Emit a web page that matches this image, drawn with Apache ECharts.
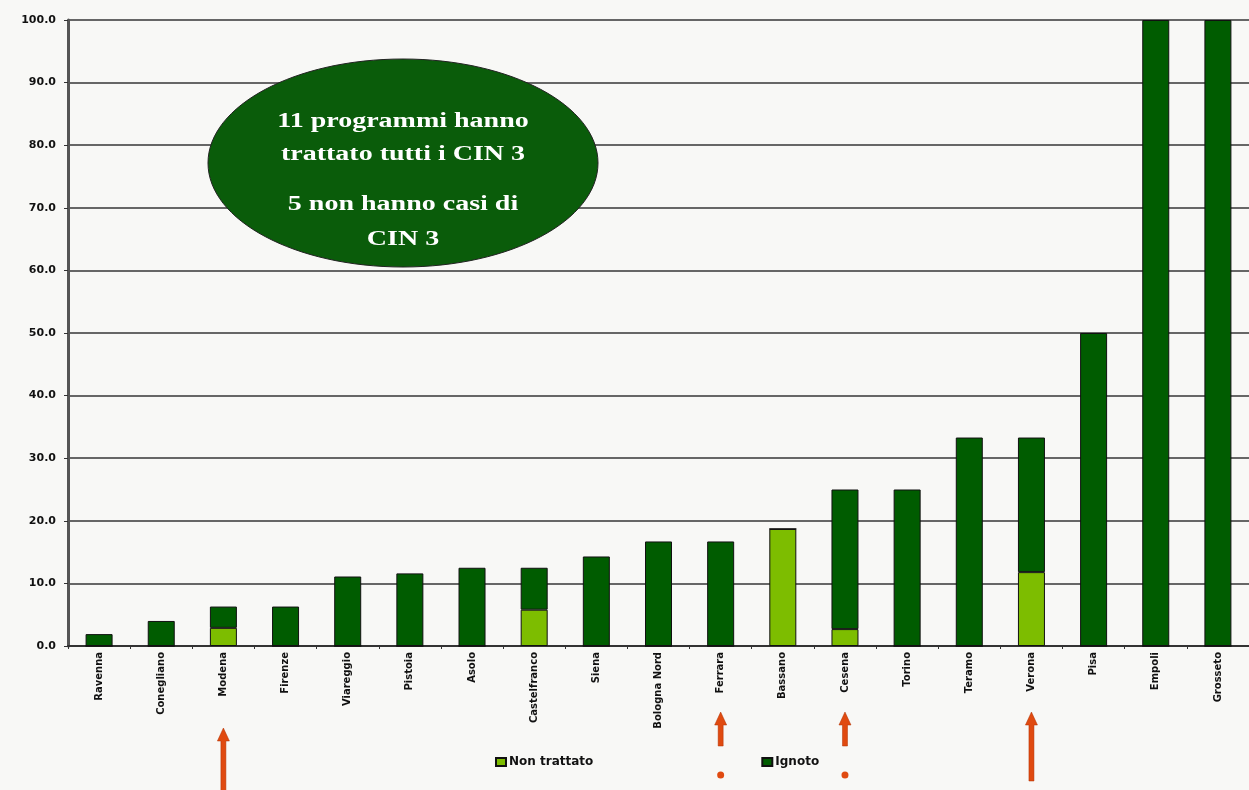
<!DOCTYPE html>
<html><head><meta charset="utf-8">
<script src="https://cdn.jsdelivr.net/npm/echarts@6/dist/echarts.min.js"></script>
<style>html,body{margin:0;padding:0;background:#f8f8f6;}#c{width:1249px;height:790px;}</style>
</head><body><div id="c"></div>
<script>
const categories = ['Ravenna','Conegliano','Modena','Firenze','Viareggio','Pistoia','Asolo','Castelfranco','Siena','Bologna Nord','Ferrara','Bassano','Cesena','Torino','Teramo','Verona','Pisa','Empoli','Grosseto'];
const nonTrattato = [0,0,2.9,0,0,0,0,5.8,0,0,0,18.7,2.7,0,0,11.8,0,0,0];
const ignoto =      [1.9,4.0,3.4,6.3,11.1,11.6,12.5,6.7,14.3,16.7,16.7,0,22.3,25,33.3,21.5,50,100,100];
const yTicks = [0,10,20,30,40,50,60,70,80,90,100];
const noteLines = ['11 programmi hanno','trattato tutti i CIN 3','5 non hanno casi di','CIN 3'];
const arrowMarks = [
  {cat:'Modena', tip:728, end:795, dot:false},
  {cat:'Ferrara', tip:712, end:746, dot:true},
  {cat:'Cesena', tip:712, end:746, dot:true},
  {cat:'Verona', tip:712, end:781, dot:false}
];

const chart = echarts.init(document.getElementById('c'), null, {renderer:'canvas'});
const option = {
  backgroundColor:'#f8f8f6',
  animation:false,
  grid:{left:68, right:0, top:20, bottom:144, containLabel:false},
  legend:{
    data:['Non trattato','Ignoto'], left:490, top:751, itemWidth:10, itemHeight:8, itemGap:168,
    icon:'rect',
    textStyle:{fontFamily:'DejaVu Sans', fontWeight:'bold', fontSize:12, color:'#111', padding:[0,0,0,-2]}
  },
  xAxis:{
    type:'category', data:categories,
    axisLine:{lineStyle:{color:'#333', width:2}},
    axisTick:{show:true, length:3, lineStyle:{color:'#333'}},
    axisLabel:{rotate:90, interval:0, fontFamily:'DejaVu Sans', fontWeight:'bold', fontSize:10, color:'#111', margin:6}
  },
  yAxis:{
    type:'value', min:0, max:100, interval:10,
    axisLine:{show:true, lineStyle:{color:'#555', width:3}},
    axisTick:{show:true, length:4, lineStyle:{color:'#333'}},
    axisLabel:{formatter:v=>yTicks.includes(v)?v.toFixed(1):'', fontFamily:'DejaVu Sans', fontWeight:'bold', fontSize:11, color:'#111', margin:12},
    splitLine:{lineStyle:{color:'#363636', width:1.6}}
  },
  series:[
    {name:'Non trattato', type:'bar', stack:'t', data:nonTrattato, barWidth:27,
     itemStyle:{color:'#7dbd00', borderColor:'#111', borderWidth:1}},
    {name:'Ignoto', type:'bar', stack:'t', data:ignoto, barWidth:27,
     itemStyle:{color:'#005c00', borderColor:'#111', borderWidth:1}}
  ]
};
chart.setOption(option);

const cx = 403, cy = 163;
const graphics = [
  {type:'ellipse', shape:{cx:cx, cy:cy, rx:195, ry:104}, style:{fill:'#0a5c0a', stroke:'#222', lineWidth:1}, z:10}
];
const lineY = [122,155,205,240];
noteLines.forEach((t,i)=>{
  graphics.push({type:'text', x:cx, y:lineY[i], z:11, scaleX:1.4,
    style:{text:t, fill:'#fff', font:'bold 20px "Liberation Serif"', textAlign:'center', textVerticalAlign:'middle'}});
});
arrowMarks.forEach(a=>{
  const x = chart.convertToPixel({xAxisIndex:0}, a.cat);
  graphics.push({type:'polygon', z:12, shape:{points:[[x,a.tip],[x+6,a.tip+13],[x+2.5,a.tip+13],[x+2.5,a.end],[x-2.5,a.end],[x-2.5,a.tip+13],[x-6,a.tip+13]]},
    style:{fill:'#e04a10', stroke:'#b03000', lineWidth:0.5}});
  if(a.dot) graphics.push({type:'circle', z:12, shape:{cx:x, cy:775, r:3.5}, style:{fill:'#e04a10'}});
});
chart.setOption({graphic:graphics});
</script></body></html>
